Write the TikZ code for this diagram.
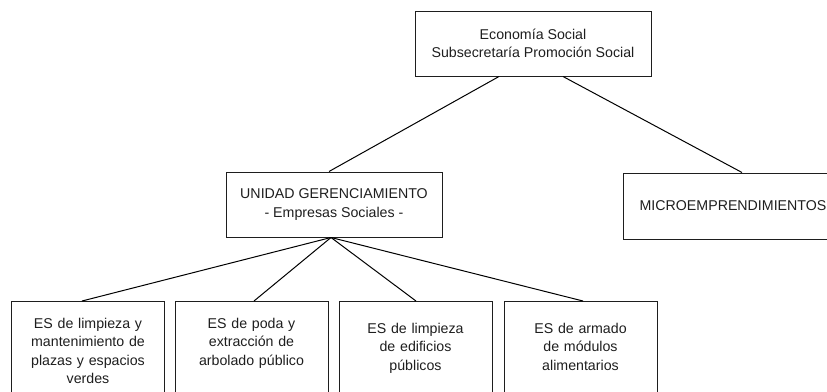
\documentclass[tikz,border=0pt]{standalone}
\usepackage{fontspec}
\setmainfont{Liberation Sans}
\usepackage{tikz}
\usetikzlibrary{positioning,calc}
\definecolor{boxline}{RGB}{30,30,30}
\definecolor{boxtext}{RGB}{30,30,30}

\begin{document}
\begin{tikzpicture}[
  x=1pt,y=-1pt,
  font=\fontsize{14.2}{18.4}\selectfont,
  every node/.style={align=center,text=boxtext},
  unit/.style={draw=boxline,line width=1pt,inner sep=0pt,
               minimum height=65pt},
  empresa/.style={draw=boxline,line width=1pt,anchor=north,inner xsep=3pt,
               inner ysep=0pt,text width=147pt,text depth=110pt},
  link/.style={line width=1pt,black}
]
\useasboundingbox (0,0) rectangle (827,391);
\clip (0,0) rectangle (827,391);

% --- top level ---
\node[unit,minimum width=236pt] (eco) at (533,43.5)
  {Econom\'ia Social\\Subsecretar\'ia Promoci\'on Social};

% --- second level ---
\node[unit,minimum width=216pt] (unidad) at (334,204.5)
  {UNIDAD GERENCIAMIENTO\\- Empresas Sociales -};
\node[unit,minimum width=220pt,minimum height=66pt] (micro) at (733,206)
  {MICROEMPRENDIMIENTOS};

% --- empresas sociales (cut at the bottom) ---
\node[empresa,minimum width=152pt,text height=27pt] (limpieza) at (88,301)
  {ES de limpieza y\\mantenimiento de\\plazas y espacios\\verdes};
\node[empresa,minimum width=153pt,text height=27pt] (poda) at (251.5,301)
  {ES de poda y\\extracci\'on de\\arbolado p\'ublico};
\node[empresa,minimum width=153pt,text height=32pt] (edificios) at (415.5,301)
  {ES de limpieza\\de edificios\\p\'ublicos};
\node[empresa,minimum width=153pt,text height=32pt] (modulos) at (580.5,301)
  {ES de armado\\de m\'odulos\\alimentarios};

% --- connectors ---
\draw[link] ([xshift=-34pt]eco.south) -- ([xshift=-5pt]unidad.north);
\draw[link] ([xshift=30pt]eco.south) -- ([xshift=9pt]micro.north);
\draw[link] ([xshift=-3pt]unidad.south) -- ([xshift=-6pt]limpieza.north);
\draw[link] ([xshift=-3pt]unidad.south) -- ([xshift=2.5pt]poda.north);
\draw[link] ([xshift=-3pt]unidad.south) -- ([xshift=0.5pt]edificios.north);
\draw[link] ([xshift=-3pt]unidad.south) -- ([xshift=2.5pt]modulos.north);
\end{tikzpicture}
\end{document}
